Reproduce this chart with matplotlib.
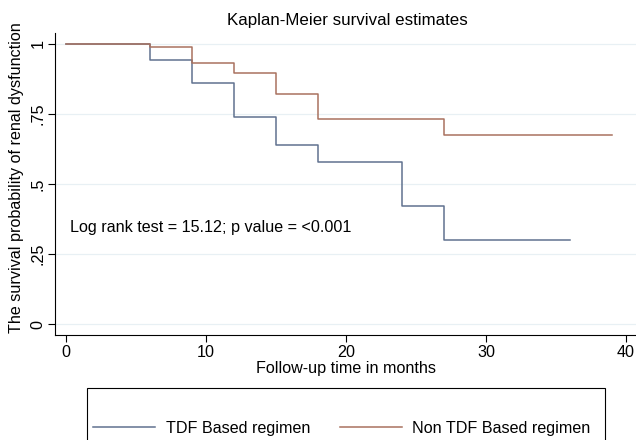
import matplotlib.pyplot as plt
from matplotlib.patches import Rectangle
from matplotlib.lines import Line2D

plt.rcParams['font.family'] = ['Liberation Sans', 'DejaVu Sans']

# Kaplan-Meier step values
tdf_time = [0, 6, 9, 12, 15, 18, 24, 27, 36]
tdf_surv = [1, 0.943, 0.861, 0.740, 0.639, 0.578, 0.422, 0.300, 0.300]
non_time = [0, 6, 9, 12, 15, 18, 27, 39]
non_surv = [1, 0.988, 0.931, 0.898, 0.822, 0.732, 0.676, 0.676]

yticks = [0, 0.25, 0.5, 0.75, 1]
ytick_labels = ['0', '.25', '.5', '.75', '1']
xticks = [0, 10, 20, 30, 40]

blue = '#60728F'
red = '#A9725F'
grid_col = '#E8F0F4'
fs = 11.6

fig = plt.figure(figsize=(6.36, 4.4), dpi=100)
ax = fig.add_axes([55 / 636, 1 - 335 / 440, 581 / 636, (335 - 33) / 440])

for y in yticks:
    ax.axhline(y, color=grid_col, lw=0.9, zorder=0)

ax.step(tdf_time, tdf_surv, where='post', color=blue, lw=1.1)
ax.step(non_time, non_surv, where='post', color=red, lw=1.1)

# x: 0 at 66 px, 14 px per month; axis runs 55..636 px
ax.set_xlim(-0.786, 40.71)
ax.set_ylim(-0.039, 1.039)
ax.set_xticks(xticks)
ax.set_yticks(yticks)
ax.set_yticklabels(ytick_labels, rotation=90, va='center')
ax.tick_params(labelsize=fs, length=5, width=0.8, pad=2)
for s in ['top', 'right']:
    ax.spines[s].set_visible(False)
for s in ['left', 'bottom']:
    ax.spines[s].set_linewidth(0.8)

fig.text(347 / 636, 1 - 21 / 440, 'Kaplan-Meier survival estimates', fontsize=12.2,
         ha='center', va='center')
ax.set_xlabel('Follow-up time in months', fontsize=fs, va='center')
ax.xaxis.set_label_coords(0.5, (335 - 368) / 302)
ax.set_ylabel('The survival probability of renal dysfunction', fontsize=fs, va='center')
ax.yaxis.set_label_coords(-38 / 581, 0.52)

ax.text(0.25, 0.343, 'Log rank test = 15.12; p value = <0.001', fontsize=fs, va='center')

# legend box, running off the bottom of the picture like the original
fig.patches.append(Rectangle((87 / 636, -0.05), (605 - 87) / 636, (440 - 388) / 440 + 0.05,
                             transform=fig.transFigure, fill=False, edgecolor='black', lw=0.8))
handles = [Line2D([], [], color=blue, lw=1.1), Line2D([], [], color=red, lw=1.1)]
fig.legend(handles, ['TDF Based regimen', 'Non TDF Based regimen'], ncol=2,
           loc='center left', bbox_to_anchor=(93 / 636, 1 - 428 / 440), frameon=False,
           fontsize=fs, borderpad=0, borderaxespad=0, handlelength=3.85,
           columnspacing=1.85, handletextpad=0.65)

fig.savefig('out.png', dpi=100)
